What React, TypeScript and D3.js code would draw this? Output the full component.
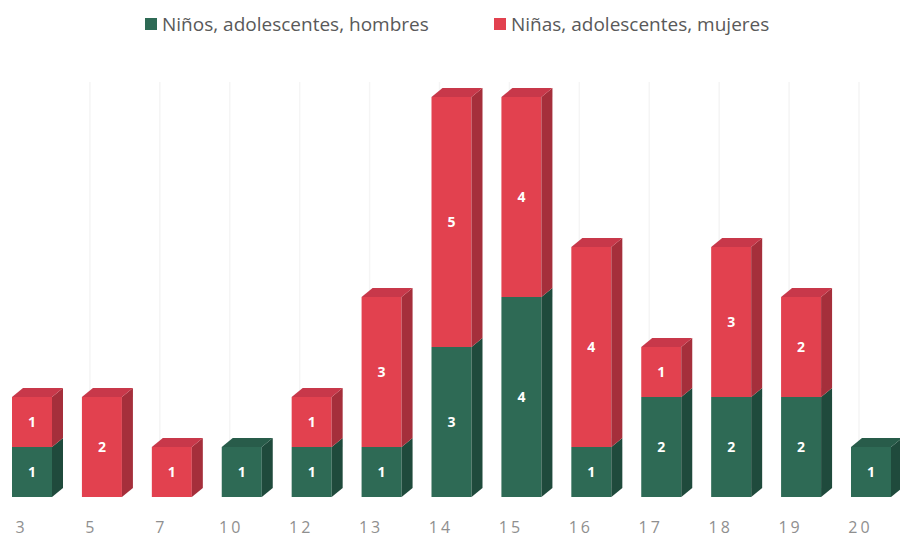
import React from "react";
import * as d3 from "d3";

const categories = ["3", "5", "7", "10", "12", "13", "14", "15", "16", "17", "18", "19", "20"];
const boys = [1, 0, 0, 1, 1, 1, 3, 4, 1, 2, 2, 2, 1];
const girls = [1, 2, 1, 0, 1, 3, 5, 4, 4, 1, 3, 2, 0];
const seriesNames = ["Niños, adolescentes, hombres", "Niñas, adolescentes, mujeres"];

const W = 900;
const H = 539;
const FONT = "'Open Sans', Lato, sans-serif";

const colors = [
  { front: "#2e6a55", side: "#1f4a3c", top: "#285c4a" },
  { front: "#e2414f", side: "#a52f3b", top: "#c8384a" },
];

export default function App() {
  const x = d3.scalePoint<string>().domain(categories).range([32, 871]);
  const y = d3.scaleLinear().domain([0, 8]).range([497, 97]);
  const bw = 40;
  const dx = 11;
  const dy = 9;

  const stacked = d3.stack<number>().keys(["b", "g"]).value((i, k) => (k === "b" ? boys[i] : girls[i]))(
    categories.map((_, i) => i)
  );

  return (
    <svg width={W} height={H} style={{ position: "absolute", left: 0, top: 0, background: "#fff" }}>
      <rect width={W} height={H} fill="#fff" />
      {/* faint back gridlines */}
      {categories.slice(1).map((c) => {
        const xm = (x(c) as number) - 12;
        return <line key={"g" + c} x1={xm} x2={xm} y1={82} y2={y(0) - dy} stroke="#f5f5f5" strokeWidth={1.5} />;
      })}
      {categories.map((c, i) => {
        const cx = x(c) as number;
        const x0 = cx - bw / 2;
        const x1 = cx + bw / 2;
        const segs = stacked
          .map((s, si) => ({ si, lo: s[i][0], hi: s[i][1] }))
          .filter((s) => s.hi > s.lo);
        const topSeg = segs[segs.length - 1];
        return (
          <g key={c}>
            {segs.map((s) => {
              const yb = y(s.lo);
              const yt = y(s.hi);
              const col = colors[s.si];
              return (
                <g key={s.si}>
                  <rect x={x0} y={yt} width={bw} height={yb - yt} fill={col.front} />
                  <polygon
                    points={`${x1},${yt} ${x1 + dx},${yt - dy} ${x1 + dx},${yb - dy} ${x1},${yb}`}
                    fill={col.side}
                  />
                  <text
                    x={cx}
                    y={(yt + yb) / 2}
                    dy="0.35em"
                    textAnchor="middle"
                    fill="#fff"
                    fontFamily={FONT}
                    fontWeight="bold"
                    fontSize={14}
                  >
                    {s.hi - s.lo}
                  </text>
                </g>
              );
            })}
            {topSeg && (
              <polygon
                points={`${x0},${y(topSeg.hi)} ${x0 + dx},${y(topSeg.hi) - dy} ${x1 + dx},${y(topSeg.hi) - dy} ${x1},${y(topSeg.hi)}`}
                fill={colors[topSeg.si].top}
              />
            )}
            <text
              x={cx - 10.5}
              y={527}
              dy="0.35em"
              textAnchor="middle"
              fill="#8f8f8f"
              fontFamily={FONT}
              fontSize={16}
              letterSpacing={3}
            >
              {c}
            </text>
          </g>
        );
      })}
      {/* legend */}
      {seriesNames.map((n, i) => {
        const lx = i === 0 ? 145 : 494;
        return (
          <g key={n}>
            <rect x={lx} y={18} width={12} height={12} fill={colors[i].front} />
            <text x={lx + 17} y={24} dy="0.35em" fill="#595959" fontFamily={FONT} fontSize={19}>
              {n}
            </text>
          </g>
        );
      })}
    </svg>
  );
}
